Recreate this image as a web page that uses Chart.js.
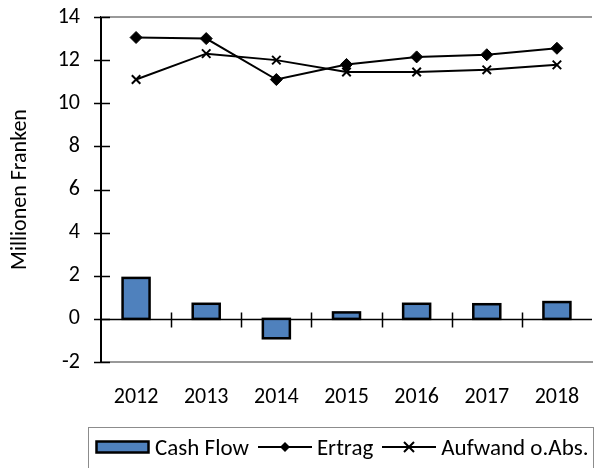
<!DOCTYPE html>
<html>
<head>
<meta charset="utf-8">
<script src="https://cdn.jsdelivr.net/npm/chart.js@4/dist/chart.umd.min.js"></script>
<style>
  html, body { margin: 0; padding: 0; background: #fff; overflow: hidden; }
  #wrap { position: relative; width: 596px; height: 468px; overflow: hidden; }
  #chart { position: absolute; left: 0; top: 0; }
  #legend {
    position: absolute; left: 88px; top: 427px; width: 506px; height: 60px;
    border: 1px solid #8c8c8c; box-sizing: border-box;
    font-family: Carlito, Lato, sans-serif; font-size: 23px; color: #000;
    display: flex; align-items: flex-start; padding: 5px 0 0 6px; white-space: nowrap;
  }
  #legend .item { display: flex; align-items: center; margin-right: 9px; }
  #legend svg { margin-right: 5px; }
</style>
</head>
<body>
<div id="wrap">
  <canvas id="chart" width="600" height="468"></canvas>
  <div id="legend">
    <span class="item"><svg width="55" height="14"><rect x="1.5" y="1.5" width="52" height="11" fill="#4F81BD" stroke="#000" stroke-width="2.5"/></svg>Cash Flow</span>
    <span class="item"><svg width="54" height="14"><line x1="0" y1="7" x2="54" y2="7" stroke="#000" stroke-width="2"/><polygon points="27,2 32,7 27,12 22,7" fill="#000"/></svg>Ertrag</span>
    <span class="item"><svg width="54" height="14"><line x1="0" y1="7" x2="54" y2="7" stroke="#000" stroke-width="2"/><path d="M22,2 L32,12 M32,2 L22,12" stroke="#000" stroke-width="2"/></svg>Aufwand o.Abs.</span>
  </div>
</div>
<script>
const years = ['2012', '2013', '2014', '2015', '2016', '2017', '2018'];
const cashFlow = [1.9, 0.7, -0.9, 0.3, 0.7, 0.68, 0.78];
const ertrag = [13.05, 13.0, 11.1, 11.8, 12.15, 12.25, 12.55];
const aufwand = [11.1, 12.3, 12.0, 11.45, 11.45, 11.55, 11.78];
const yMin = -2;
const yMax = 14;
const yStep = 2;

const FONT = 'Carlito, Lato, sans-serif';

// frame: gray top line, zero line with category ticks, y tick marks
const framePlugin = {
  id: 'frame',
  beforeDatasetsDraw(chart) {
    const { ctx, chartArea, scales } = chart;
    const x = scales.x;
    const y = scales.y;
    ctx.save();
    ctx.strokeStyle = '#999';
    ctx.lineWidth = 2;
    ctx.beginPath();
    ctx.moveTo(chartArea.left, chartArea.top);
    ctx.lineTo(chartArea.right, chartArea.top);
    ctx.stroke();

    const zy = Math.round(y.getPixelForValue(0)) + 0.5;
    ctx.strokeStyle = '#000';
    ctx.lineWidth = 1.5;
    ctx.beginPath();
    ctx.moveTo(chartArea.left, zy);
    ctx.lineTo(chartArea.right, zy);
    for (let i = 1; i < years.length; i++) {
      const bx = Math.round((x.getPixelForValue(i - 1) + x.getPixelForValue(i)) / 2) + 0.5;
      ctx.moveTo(bx, zy - 7);
      ctx.lineTo(bx, zy + 8);
    }
    ctx.stroke();

    ctx.beginPath();
    for (let v = yMin; v <= yMax; v += yStep) {
      const ty = Math.round(y.getPixelForValue(v)) + 0.5;
      ctx.moveTo(chartArea.left - 7, ty);
      ctx.lineTo(chartArea.left + 9, ty);
    }
    ctx.stroke();
    ctx.restore();
  },
  // centred outline on the bars (Excel style), using the bar elements' geometry
  afterDatasetDraw(chart, args) {
    if (chart.data.datasets[args.index].type !== 'bar') return;
    const ctx = chart.ctx;
    ctx.save();
    ctx.strokeStyle = '#000';
    ctx.lineWidth = 2.5;
    ctx.lineJoin = 'miter';
    args.meta.data.forEach((bar) => {
      const { x, y, base, width } = bar.getProps(['x', 'y', 'base', 'width'], true);
      const top = Math.min(y, base);
      const h = Math.abs(base - y);
      ctx.strokeRect(x - width / 2, top, width, h);
    });
    ctx.restore();
  }
};

new Chart(document.getElementById('chart'), {
  data: {
    labels: years,
    datasets: [
      {
        type: 'line',
        label: 'Ertrag',
        data: ertrag,
        borderColor: '#000',
        backgroundColor: '#000',
        borderWidth: 2,
        pointStyle: 'rectRot',
        pointRadius: 6,
        pointBorderWidth: 1,
        tension: 0,
        order: 1,
      },
      {
        type: 'line',
        label: 'Aufwand o.Abs.',
        data: aufwand,
        borderColor: '#000',
        backgroundColor: '#000',
        borderWidth: 2,
        pointStyle: 'crossRot',
        pointRadius: 6,
        pointBorderWidth: 2,
        tension: 0,
        order: 1,
      },
      {
        type: 'bar',
        label: 'Cash Flow',
        data: cashFlow,
        backgroundColor: '#4F81BD',
        borderWidth: 0,
        categoryPercentage: 1,
        barPercentage: 0.385,
        order: 2,
      },
    ],
  },
  options: {
    responsive: false,
    animation: false,
    devicePixelRatio: 1,
    layout: { padding: { top: 17, right: 2, left: 0, bottom: 0 } },
    plugins: {
      legend: { display: false },
      tooltip: { enabled: false },
    },
    scales: {
      x: {
        offset: true,
        grid: { display: false, drawTicks: false },
        border: { display: true, color: '#999', width: 2 },
        ticks: { color: '#000', padding: 22, font: { family: FONT, size: 22 } },
        afterFit(scale) {
          scale.height = 106;
          scale.paddingLeft = 0;
          scale.paddingRight = 0;
        },
      },
      y: {
        min: yMin,
        max: yMax,
        grid: { display: false, drawTicks: false },
        border: { display: true, color: '#000', width: 2 },
        ticks: { stepSize: yStep, color: '#000', padding: 21, font: { family: FONT, size: 22 } },
        title: {
          display: true,
          text: 'Millionen Franken',
          color: '#000',
          font: { family: FONT, size: 22 },
          padding: { top: 7, bottom: 0 },
        },
        afterFit(scale) {
          scale.width = 101;
          scale.paddingTop = 0;
          scale.paddingBottom = 0;
        },
      },
    },
  },
  plugins: [framePlugin],
});
</script>
</body>
</html>
